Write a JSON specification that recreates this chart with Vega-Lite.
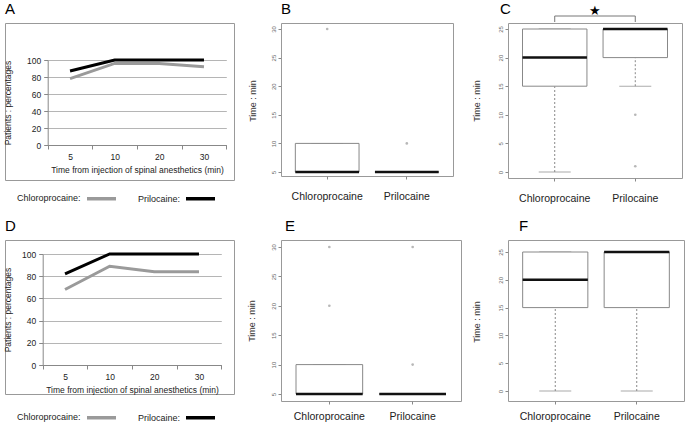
{
  "$schema": "https://vega.github.io/schema/vega-lite/v6.json",
  "padding": {"left": 3, "top": 1, "right": 0, "bottom": 0},
  "background": "white",
  "columns": 3,
  "spacing": {"row": 60, "column": 47},
  "bounds": "flush",
  "resolve": {
    "scale": {"x": "independent", "y": "independent", "color": "independent"},
    "axis": {"x": "independent", "y": "independent"},
    "legend": {"color": "independent"}
  },
  "config": {
    "font": "Liberation Sans",
    "view": {"stroke": "#999999", "strokeWidth": 1},
    "axis": {"labelOverlap": false},
    "title": {"fontSize": 15, "fontWeight": "normal", "anchor": "start", "frame": "group", "offset": 6, "color": "#000000"}
  },
  "datasets": {
    "lines": [
      {"panel": "A", "time": "5", "drug": "Chloroprocaine", "pct": 78},
      {"panel": "A", "time": "10", "drug": "Chloroprocaine", "pct": 96},
      {"panel": "A", "time": "20", "drug": "Chloroprocaine", "pct": 96},
      {"panel": "A", "time": "30", "drug": "Chloroprocaine", "pct": 92},
      {"panel": "A", "time": "5", "drug": "Prilocaine", "pct": 87},
      {"panel": "A", "time": "10", "drug": "Prilocaine", "pct": 100},
      {"panel": "A", "time": "20", "drug": "Prilocaine", "pct": 100},
      {"panel": "A", "time": "30", "drug": "Prilocaine", "pct": 100},
      {"panel": "D", "time": "5", "drug": "Chloroprocaine", "pct": 68},
      {"panel": "D", "time": "10", "drug": "Chloroprocaine", "pct": 89},
      {"panel": "D", "time": "20", "drug": "Chloroprocaine", "pct": 84},
      {"panel": "D", "time": "30", "drug": "Chloroprocaine", "pct": 84},
      {"panel": "D", "time": "5", "drug": "Prilocaine", "pct": 82},
      {"panel": "D", "time": "10", "drug": "Prilocaine", "pct": 100},
      {"panel": "D", "time": "20", "drug": "Prilocaine", "pct": 100},
      {"panel": "D", "time": "30", "drug": "Prilocaine", "pct": 100}
    ],
    "boxes": [
      {"panel": "B", "drug": "Chloroprocaine", "lo": 5, "q1": 5, "med": 5, "q3": 10, "hi": 10},
      {"panel": "B", "drug": "Prilocaine", "lo": 5, "q1": 5, "med": 5, "q3": 5, "hi": 5},
      {"panel": "C", "drug": "Chloroprocaine", "lo": 0, "q1": 15, "med": 20, "q3": 25, "hi": 25},
      {"panel": "C", "drug": "Prilocaine", "lo": 15, "q1": 20, "med": 25, "q3": 25, "hi": 25},
      {"panel": "E", "drug": "Chloroprocaine", "lo": 5, "q1": 5, "med": 5, "q3": 10, "hi": 10},
      {"panel": "E", "drug": "Prilocaine", "lo": 5, "q1": 5, "med": 5, "q3": 5, "hi": 5},
      {"panel": "F", "drug": "Chloroprocaine", "lo": 0, "q1": 15, "med": 20, "q3": 25, "hi": 25},
      {"panel": "F", "drug": "Prilocaine", "lo": 0, "q1": 15, "med": 25, "q3": 25, "hi": 25}
    ],
    "outliers": [
      {"panel": "B", "drug": "Chloroprocaine", "value": 30},
      {"panel": "B", "drug": "Prilocaine", "value": 10},
      {"panel": "C", "drug": "Prilocaine", "value": 10},
      {"panel": "C", "drug": "Prilocaine", "value": 1},
      {"panel": "E", "drug": "Chloroprocaine", "value": 20},
      {"panel": "E", "drug": "Chloroprocaine", "value": 30},
      {"panel": "E", "drug": "Prilocaine", "value": 10},
      {"panel": "E", "drug": "Prilocaine", "value": 30}
    ]
  },
  "concat": [
    {
      "title": {"text": "A"},
      "width": 229, "height": 157,
      "data": {"name": "lines"},
      "transform": [{"filter": "datum.panel == 'A'"}],
      "mark": {"type": "line", "strokeWidth": 3},
      "encoding": {
        "x": {"field": "time", "type": "ordinal", "sort": ["5", "10", "20", "30"],
          "scale": {"type": "band", "range": [42.7, 221.3], "paddingInner": 0, "paddingOuter": 0},
          "axis": {"title": "Time from injection of spinal anesthetics (min)", "offset": -35, "domainColor": "#888888", "tickColor": "#888888", "tickBand": "extent", "tickSize": 4, "labelAngle": 0, "labelFontSize": 8.5, "labelColor": "#222222", "labelPadding": 3, "titleFontSize": 8.5, "titleFontWeight": "normal", "titleColor": "#222222", "titlePadding": 5, "grid": false}},
        "y": {"field": "pct", "type": "quantitative",
          "scale": {"domain": [0, 100], "range": [122, 37], "nice": false, "zero": false},
          "axis": {"title": "Patients : percentages", "values": [0, 20, 40, 60, 80, 100], "offset": -42.7, "grid": true, "gridColor": "#b5b5b5", "domainColor": "#888888", "tickColor": "#888888", "tickSize": 4, "labelFontSize": 8.5, "labelColor": "#222222", "labelPadding": 3, "titleFontSize": 8.5, "titleFontWeight": "normal", "titleColor": "#222222", "titlePadding": 14}},
        "color": {"field": "drug", "type": "nominal",
          "scale": {"domain": ["Chloroprocaine", "Prilocaine"], "range": ["#9a9a9a", "#000000"]},
          "legend": {"orient": "none", "legendX": 12, "legendY": 159, "direction": "horizontal", "title": "Chloroprocaine:", "titleOrient": "left", "titleFontSize": 9, "titleFontWeight": "normal", "titleColor": "#222222", "titlePadding": 4, "titleBaseline": "top", "labelExpr": "datum.label == 'Chloroprocaine' ? 'Prilocaine:' : ''", "labelFontSize": 9, "labelColor": "#222222", "labelOffset": 20, "columnPadding": -2, "symbolType": "stroke", "symbolSize": 841, "symbolStrokeWidth": 3.5}}
      }
    },
    {
      "title": {"text": "B"},
      "width": 172, "height": 153,
      "encoding": {"x": {"field": "drug", "type": "nominal", "scale": {"type": "band", "domain": ["Chloroprocaine", "Prilocaine"], "paddingInner": 0.2, "paddingOuter": 0.18}, "axis": {"title": null, "labelAngle": 0, "tickSize": 3, "domain": false, "labelFontSize": 10.5, "labelPadding": 12, "tickColor": "#888888", "labelColor": "#222222"}}},
      "layer": [
        {"data": {"name": "boxes"}, "transform": [{"filter": "datum.panel == 'B'"}], "mark": {"type": "rule", "strokeDash": [2, 2], "color": "#888888"},
          "encoding": {"y": {"field": "lo", "type": "quantitative", "title": "Time : min", "scale": {"domain": [5, 30], "range": [149, 6], "nice": false, "zero": false},
            "axis": {"tickCount": 6, "labelOverlap": false, "labelAngle": 270, "labelFontSize": 6, "labelColor": "#666666", "tickSize": 3, "tickColor": "#888888", "domainColor": "#999999", "labelPadding": 2, "titleFontSize": 9, "titleFontWeight": "normal", "titleColor": "#333333", "titlePadding": 13, "grid": false}},
            "y2": {"field": "q1"}}},
        {"data": {"name": "boxes"}, "transform": [{"filter": "datum.panel == 'B'"}], "mark": {"type": "rule", "strokeDash": [2, 2], "color": "#888888"},
          "encoding": {"y": {"field": "q3", "type": "quantitative", "title": "Time : min"}, "y2": {"field": "hi"}}},
        {"data": {"name": "boxes"}, "transform": [{"filter": "datum.panel == 'B'"}], "mark": {"type": "tick", "size": 32, "thickness": 1, "color": "#888888"},
          "encoding": {"y": {"field": "lo", "type": "quantitative", "title": "Time : min"}}},
        {"data": {"name": "boxes"}, "transform": [{"filter": "datum.panel == 'B'"}], "mark": {"type": "tick", "size": 32, "thickness": 1, "color": "#888888"},
          "encoding": {"y": {"field": "hi", "type": "quantitative", "title": "Time : min"}}},
        {"data": {"name": "boxes"}, "transform": [{"filter": "datum.panel == 'B'"}], "mark": {"type": "bar", "fill": "white", "stroke": "#888888", "strokeWidth": 1},
          "encoding": {"y": {"field": "q1", "type": "quantitative", "title": "Time : min"}, "y2": {"field": "q3"}}},
        {"data": {"name": "boxes"}, "transform": [{"filter": "datum.panel == 'B'"}], "mark": {"type": "bar", "filled": false, "color": "#111111", "strokeWidth": 2.5},
          "encoding": {"y": {"field": "med", "type": "quantitative", "title": "Time : min"}, "y2": {"field": "med"}}},
        {"data": {"name": "outliers"}, "transform": [{"filter": "datum.panel == 'B'"}], "mark": {"type": "point", "filled": true, "size": 7, "color": "#999999"},
          "encoding": {"y": {"field": "value", "type": "quantitative", "title": "Time : min"}}}
      ]
    },
    {
      "title": {"text": "C", "dx": -8, "dy": 18.5},
      "width": 174, "height": 155,
      "encoding": {"x": {"field": "drug", "type": "nominal", "scale": {"type": "band", "domain": ["Chloroprocaine", "Prilocaine"], "paddingInner": 0.2, "paddingOuter": 0.18}, "axis": {"title": null, "labelAngle": 0, "tickSize": 3, "domain": false, "labelFontSize": 10.5, "labelPadding": 12, "tickColor": "#888888", "labelColor": "#222222"}}},
      "layer": [
        {"data": {"name": "boxes"}, "transform": [{"filter": "datum.panel == 'C'"}], "mark": {"type": "rule", "strokeDash": [2, 2], "color": "#888888"},
          "encoding": {"y": {"field": "lo", "type": "quantitative", "title": "Time : min", "scale": {"domain": [0, 25], "range": [149, 6], "nice": false, "zero": false},
            "axis": {"tickCount": 6, "labelOverlap": false, "labelAngle": 270, "labelFontSize": 6, "labelColor": "#666666", "tickSize": 3, "tickColor": "#888888", "domainColor": "#999999", "labelPadding": 2, "titleFontSize": 9, "titleFontWeight": "normal", "titleColor": "#333333", "titlePadding": 16, "grid": false}},
            "y2": {"field": "q1"}}},
        {"data": {"name": "boxes"}, "transform": [{"filter": "datum.panel == 'C'"}], "mark": {"type": "rule", "strokeDash": [2, 2], "color": "#888888"},
          "encoding": {"y": {"field": "q3", "type": "quantitative", "title": "Time : min"}, "y2": {"field": "hi"}}},
        {"data": {"name": "boxes"}, "transform": [{"filter": "datum.panel == 'C'"}], "mark": {"type": "tick", "size": 32, "thickness": 1, "color": "#888888"},
          "encoding": {"y": {"field": "lo", "type": "quantitative", "title": "Time : min"}}},
        {"data": {"name": "boxes"}, "transform": [{"filter": "datum.panel == 'C'"}], "mark": {"type": "tick", "size": 32, "thickness": 1, "color": "#888888"},
          "encoding": {"y": {"field": "hi", "type": "quantitative", "title": "Time : min"}}},
        {"data": {"name": "boxes"}, "transform": [{"filter": "datum.panel == 'C'"}], "mark": {"type": "bar", "fill": "white", "stroke": "#888888", "strokeWidth": 1},
          "encoding": {"y": {"field": "q1", "type": "quantitative", "title": "Time : min"}, "y2": {"field": "q3"}}},
        {"data": {"name": "boxes"}, "transform": [{"filter": "datum.panel == 'C'"}], "mark": {"type": "bar", "filled": false, "color": "#111111", "strokeWidth": 2.5},
          "encoding": {"y": {"field": "med", "type": "quantitative", "title": "Time : min"}, "y2": {"field": "med"}}},
        {"data": {"name": "outliers"}, "transform": [{"filter": "datum.panel == 'C'"}], "mark": {"type": "point", "filled": true, "size": 7, "color": "#999999"},
          "encoding": {"y": {"field": "value", "type": "quantitative", "title": "Time : min"}}},
        {"data": {"values": [{}]}, "mark": {"type": "rule", "color": "#777777", "strokeWidth": 1},
          "encoding": {"x": {"datum": "Chloroprocaine"}, "x2": {"datum": "Prilocaine"}, "y": {"datum": 27.27, "title": "Time : min"}}},
        {"data": {"values": [{}]}, "mark": {"type": "rule", "color": "#777777", "strokeWidth": 1},
          "encoding": {"x": {"datum": "Chloroprocaine"}, "y": {"datum": 26.22, "title": "Time : min"}, "y2": {"datum": 27.27}}},
        {"data": {"values": [{}]}, "mark": {"type": "rule", "color": "#777777", "strokeWidth": 1},
          "encoding": {"x": {"datum": "Prilocaine"}, "y": {"datum": 26.22, "title": "Time : min"}, "y2": {"datum": 27.27}}},
        {"data": {"values": [{}]}, "mark": {"type": "text", "text": "★", "fontSize": 13, "dx": 40, "baseline": "middle", "font": "DejaVu Sans", "color": "#000000"},
          "encoding": {"x": {"datum": "Chloroprocaine"}, "y": {"datum": 28.15, "title": "Time : min"}}}
      ]
    },
    {
      "title": {"text": "D"},
      "width": 229, "height": 154,
      "data": {"name": "lines"},
      "transform": [{"filter": "datum.panel == 'D'"}],
      "mark": {"type": "line", "strokeWidth": 3},
      "encoding": {
        "x": {"field": "time", "type": "ordinal", "sort": ["5", "10", "20", "30"],
          "scale": {"type": "band", "range": [37.7, 216.3], "paddingInner": 0, "paddingOuter": 0},
          "axis": {"title": "Time from injection of spinal anesthetics (min)", "offset": -29, "domainColor": "#888888", "tickColor": "#888888", "tickBand": "extent", "tickSize": 4, "labelAngle": 0, "labelFontSize": 8.5, "labelColor": "#222222", "labelPadding": 3, "titleFontSize": 8.5, "titleFontWeight": "normal", "titleColor": "#222222", "titlePadding": 5, "grid": false}},
        "y": {"field": "pct", "type": "quantitative",
          "scale": {"domain": [0, 100], "range": [125, 14], "nice": false, "zero": false},
          "axis": {"title": "Patients : percentages", "values": [0, 20, 40, 60, 80, 100], "offset": -37.7, "grid": true, "gridColor": "#b5b5b5", "domainColor": "#888888", "tickColor": "#888888", "tickSize": 4, "labelFontSize": 8.5, "labelColor": "#222222", "labelPadding": 3, "titleFontSize": 8.5, "titleFontWeight": "normal", "titleColor": "#222222", "titlePadding": 9}},
        "color": {"field": "drug", "type": "nominal",
          "scale": {"domain": ["Chloroprocaine", "Prilocaine"], "range": ["#9a9a9a", "#000000"]},
          "legend": {"orient": "none", "legendX": 12, "legendY": 161, "direction": "horizontal", "title": "Chloroprocaine:", "titleOrient": "left", "titleFontSize": 9, "titleFontWeight": "normal", "titleColor": "#222222", "titlePadding": 4, "titleBaseline": "top", "labelExpr": "datum.label == 'Chloroprocaine' ? 'Prilocaine:' : ''", "labelFontSize": 9, "labelColor": "#222222", "labelOffset": 20, "columnPadding": -2, "symbolType": "stroke", "symbolSize": 841, "symbolStrokeWidth": 3.5}}
      }
    },
    {
      "title": {"text": "E", "dx": 4},
      "width": 180, "height": 161,
      "encoding": {"x": {"field": "drug", "type": "nominal", "scale": {"type": "band", "domain": ["Chloroprocaine", "Prilocaine"], "paddingInner": 0.2, "paddingOuter": 0.18}, "axis": {"title": null, "labelAngle": 0, "tickSize": 3, "domain": false, "labelFontSize": 10.5, "labelPadding": 7, "tickColor": "#888888", "labelColor": "#222222"}}},
      "layer": [
        {"data": {"name": "boxes"}, "transform": [{"filter": "datum.panel == 'E'"}], "mark": {"type": "rule", "strokeDash": [2, 2], "color": "#888888"},
          "encoding": {"y": {"field": "lo", "type": "quantitative", "title": "Time : min", "scale": {"domain": [5, 30], "range": [154, 7], "nice": false, "zero": false},
            "axis": {"tickCount": 6, "labelOverlap": false, "labelAngle": 270, "labelFontSize": 6, "labelColor": "#666666", "tickSize": 3, "tickColor": "#888888", "domainColor": "#999999", "labelPadding": 2, "titleFontSize": 9, "titleFontWeight": "normal", "titleColor": "#333333", "titlePadding": 14, "grid": false}},
            "y2": {"field": "q1"}}},
        {"data": {"name": "boxes"}, "transform": [{"filter": "datum.panel == 'E'"}], "mark": {"type": "rule", "strokeDash": [2, 2], "color": "#888888"},
          "encoding": {"y": {"field": "q3", "type": "quantitative", "title": "Time : min"}, "y2": {"field": "hi"}}},
        {"data": {"name": "boxes"}, "transform": [{"filter": "datum.panel == 'E'"}], "mark": {"type": "tick", "size": 33, "thickness": 1, "color": "#888888"},
          "encoding": {"y": {"field": "lo", "type": "quantitative", "title": "Time : min"}}},
        {"data": {"name": "boxes"}, "transform": [{"filter": "datum.panel == 'E'"}], "mark": {"type": "tick", "size": 33, "thickness": 1, "color": "#888888"},
          "encoding": {"y": {"field": "hi", "type": "quantitative", "title": "Time : min"}}},
        {"data": {"name": "boxes"}, "transform": [{"filter": "datum.panel == 'E'"}], "mark": {"type": "bar", "fill": "white", "stroke": "#888888", "strokeWidth": 1},
          "encoding": {"y": {"field": "q1", "type": "quantitative", "title": "Time : min"}, "y2": {"field": "q3"}}},
        {"data": {"name": "boxes"}, "transform": [{"filter": "datum.panel == 'E'"}], "mark": {"type": "bar", "filled": false, "color": "#111111", "strokeWidth": 2.5},
          "encoding": {"y": {"field": "med", "type": "quantitative", "title": "Time : min"}, "y2": {"field": "med"}}},
        {"data": {"name": "outliers"}, "transform": [{"filter": "datum.panel == 'E'"}], "mark": {"type": "point", "filled": true, "size": 7, "color": "#999999"},
          "encoding": {"y": {"field": "value", "type": "quantitative", "title": "Time : min"}}}
      ]
    },
    {
      "title": {"text": "F", "dx": 11},
      "width": 176, "height": 161,
      "encoding": {"x": {"field": "drug", "type": "nominal", "scale": {"type": "band", "domain": ["Chloroprocaine", "Prilocaine"], "paddingInner": 0.2, "paddingOuter": 0.18}, "axis": {"title": null, "labelAngle": 0, "tickSize": 3, "domain": false, "labelFontSize": 10.5, "labelPadding": 7, "tickColor": "#888888", "labelColor": "#222222"}}},
      "layer": [
        {"data": {"name": "boxes"}, "transform": [{"filter": "datum.panel == 'F'"}], "mark": {"type": "rule", "strokeDash": [2, 2], "color": "#888888"},
          "encoding": {"y": {"field": "lo", "type": "quantitative", "title": "Time : min", "scale": {"domain": [0, 25], "range": [151, 12], "nice": false, "zero": false},
            "axis": {"tickCount": 6, "labelOverlap": false, "labelAngle": 270, "labelFontSize": 6, "labelColor": "#666666", "tickSize": 3, "tickColor": "#888888", "domainColor": "#999999", "labelPadding": 2, "titleFontSize": 9, "titleFontWeight": "normal", "titleColor": "#333333", "titlePadding": 16, "grid": false}},
            "y2": {"field": "q1"}}},
        {"data": {"name": "boxes"}, "transform": [{"filter": "datum.panel == 'F'"}], "mark": {"type": "rule", "strokeDash": [2, 2], "color": "#888888"},
          "encoding": {"y": {"field": "q3", "type": "quantitative", "title": "Time : min"}, "y2": {"field": "hi"}}},
        {"data": {"name": "boxes"}, "transform": [{"filter": "datum.panel == 'F'"}], "mark": {"type": "tick", "size": 32, "thickness": 1, "color": "#888888"},
          "encoding": {"y": {"field": "lo", "type": "quantitative", "title": "Time : min"}}},
        {"data": {"name": "boxes"}, "transform": [{"filter": "datum.panel == 'F'"}], "mark": {"type": "tick", "size": 32, "thickness": 1, "color": "#888888"},
          "encoding": {"y": {"field": "hi", "type": "quantitative", "title": "Time : min"}}},
        {"data": {"name": "boxes"}, "transform": [{"filter": "datum.panel == 'F'"}], "mark": {"type": "bar", "fill": "white", "stroke": "#888888", "strokeWidth": 1},
          "encoding": {"y": {"field": "q1", "type": "quantitative", "title": "Time : min"}, "y2": {"field": "q3"}}},
        {"data": {"name": "boxes"}, "transform": [{"filter": "datum.panel == 'F'"}], "mark": {"type": "bar", "filled": false, "color": "#111111", "strokeWidth": 2.5},
          "encoding": {"y": {"field": "med", "type": "quantitative", "title": "Time : min"}, "y2": {"field": "med"}}}
      ]
    }
  ]
}
